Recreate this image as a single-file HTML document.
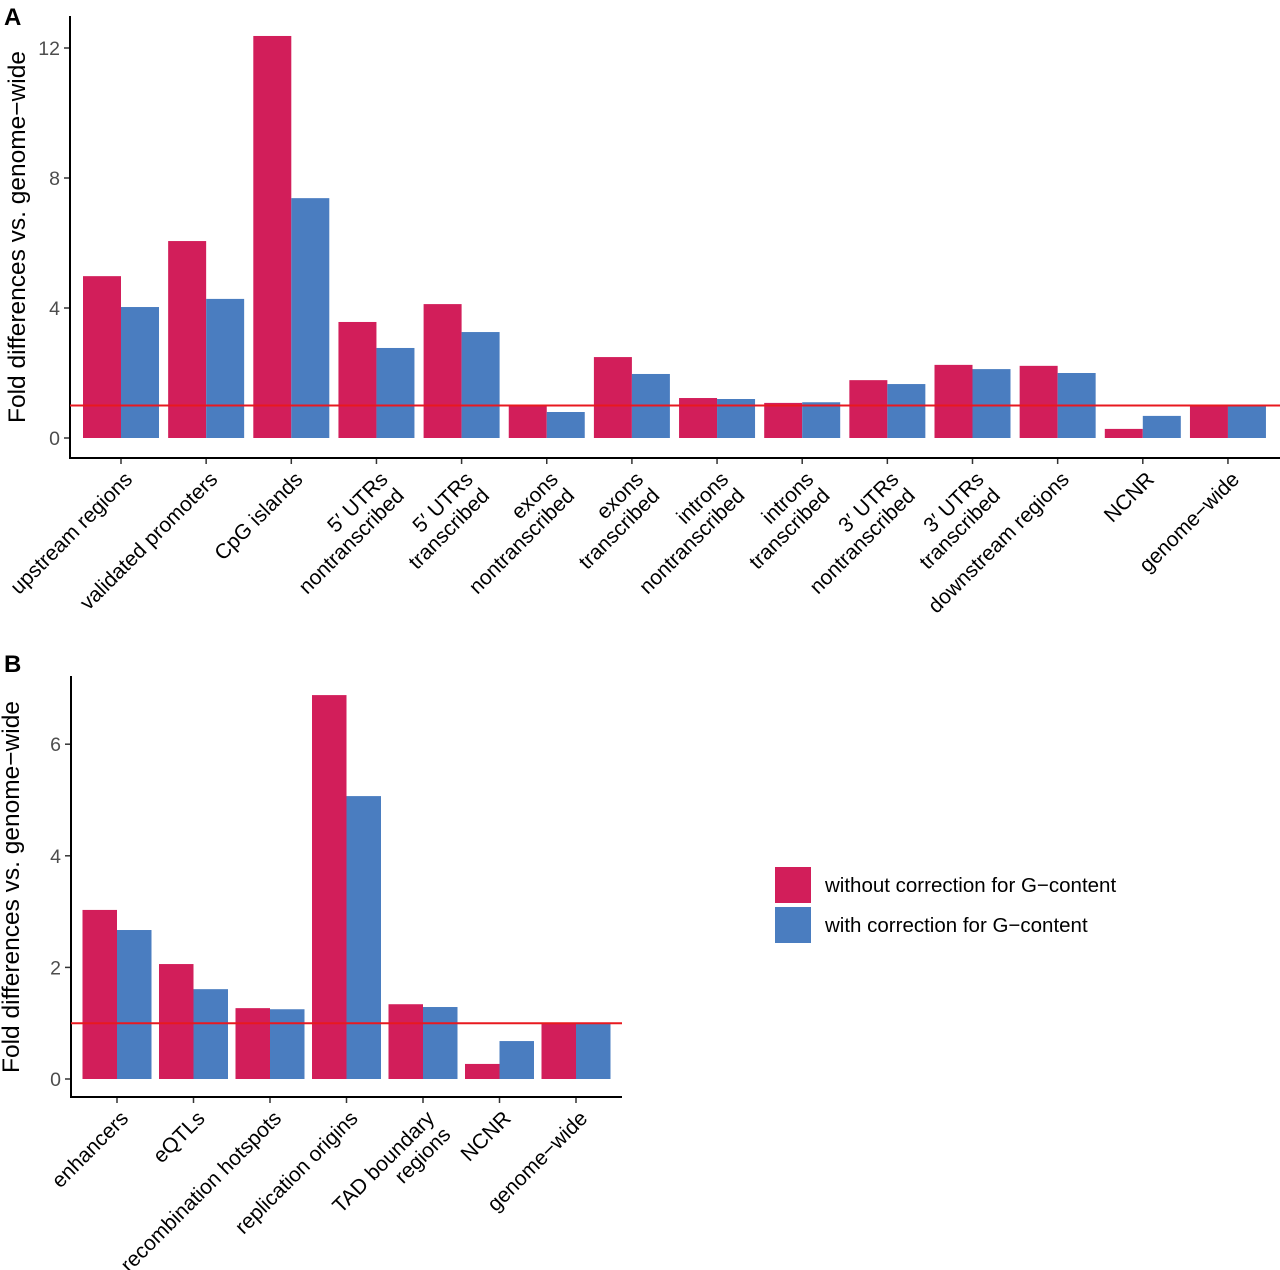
<!DOCTYPE html>
<html><head><meta charset="utf-8"><style>
body{margin:0;background:#fff;}
svg{display:block;font-family:"Liberation Sans",Arial,sans-serif;}
</style></head><body>
<svg id="chart" width="1280" height="1270" viewBox="0 0 1280 1270" xmlns="http://www.w3.org/2000/svg">
<text x="4" y="25" font-size="24" font-weight="bold">A</text>
<text x="4" y="672" font-size="24" font-weight="bold">B</text>
<text transform="translate(25,237) rotate(-90)" text-anchor="middle" font-size="24.5">Fold differences vs. genome−wide</text>
<text transform="translate(19,887) rotate(-90)" text-anchor="middle" font-size="24.5">Fold differences vs. genome−wide</text>
<g>
<rect x="775" y="867" width="36" height="36" fill="#D21E5A"/>
<rect x="775" y="907" width="36" height="36" fill="#4A7DC0"/>
<text x="825" y="892" font-size="20.5">without correction for G−content</text>
<text x="825" y="932" font-size="20.5">with correction for G−content</text>
</g>
</svg>
<script>
const catsA = [["upstream regions"],["validated promoters"],["CpG islands"],["5′ UTRs","nontranscribed"],["5′ UTRs","transcribed"],["exons","nontranscribed"],["exons","transcribed"],["introns","nontranscribed"],["introns","transcribed"],["3′ UTRs","nontranscribed"],["3′ UTRs","transcribed"],["downstream regions"],["NCNR"],["genome−wide"]];
const withoutA = [4.98,6.06,12.37,3.57,4.12,1.02,2.49,1.23,1.08,1.78,2.25,2.22,0.28,1.0];
const withA = [4.03,4.28,7.38,2.77,3.26,0.8,1.97,1.2,1.1,1.66,2.12,2.0,0.68,1.0];
const ticksA = [0,4,8,12];
const catsB = [["enhancers"],["eQTLs"],["recombination hotspots"],["replication origins"],["TAD boundary","regions"],["NCNR"],["genome−wide"]];
const withoutB = [3.03,2.06,1.27,6.88,1.34,0.27,1.0];
const withB = [2.67,1.61,1.25,5.07,1.29,0.68,1.0];
const ticksB = [0,2,4,6];
const refLine = 1;

const NS='http://www.w3.org/2000/svg';
const svg=document.getElementById('chart');
function mk(tag,attrs,parent){const e=document.createElementNS(NS,tag);for(const k in attrs)e.setAttribute(k,attrs[k]);(parent||svg).appendChild(e);return e;}

function panel(p){
  const g=mk('g',{});
  
  
  const y=v=>p.y0-v*p.ppu;
  const x=i=>p.c0+i*p.step;
  p.cats.forEach((c,i)=>{
    const r=mk('rect',{x:x(i)-p.bw,y:y(p.a[i]),width:p.bw,height:p.y0-y(p.a[i]),fill:'#D21E5A'},g);
    
    
    const b=mk('rect',{x:x(i),y:y(p.b[i]),width:p.bw,height:p.y0-y(p.b[i]),fill:'#4A7DC0'},g);
    
    
    const t=mk('line',{x1:x(i),x2:x(i),y1:p.axY,y2:p.axY+6,stroke:'#333','stroke-width':1.5},g);
    
    
    const tx=mk('text',{transform:`translate(${x(i)+2},${p.axY+12}) rotate(-45)`,'text-anchor':'end','font-size':21},g);
    
    
    c.forEach((ln,j)=>{const s=mk('tspan',{x:0,y:(j===0?15:38)},tx);s.textContent=ln;});
  });
  p.ticks.forEach(v=>{
    const t=mk('line',{x1:p.axX-6,x2:p.axX,y1:y(v),y2:y(v),stroke:'#333','stroke-width':1.5},g);
    
    
    const l=mk('text',{x:p.axX-10,y:y(v)+7,'text-anchor':'end','font-size':19.5,fill:'#4d4d4d'},g);
    
    
    l.textContent=v;
  });
  const ax=mk('path',{d:`M${p.axX},${p.top}V${p.axY}H${p.right}`,fill:'none',stroke:'#000','stroke-width':2},g);
  
  
  const rl=mk('line',{x1:p.axX,x2:p.right,y1:y(refLine),y2:y(refLine),stroke:'#E8191F','stroke-width':2},g);
  
  
}
panel({name:'panel-a',cats:catsA,a:withoutA,b:withA,ticks:ticksA,y0:438,ppu:32.5,c0:121,step:85.15,bw:38,axX:70,axY:458,top:16,right:1280});
panel({name:'panel-b',cats:catsB,a:withoutB,b:withB,ticks:ticksB,y0:1079,ppu:55.8,c0:117,step:76.5,bw:34.5,axX:71,axY:1097,top:676,right:622});
</script>
</body></html>
